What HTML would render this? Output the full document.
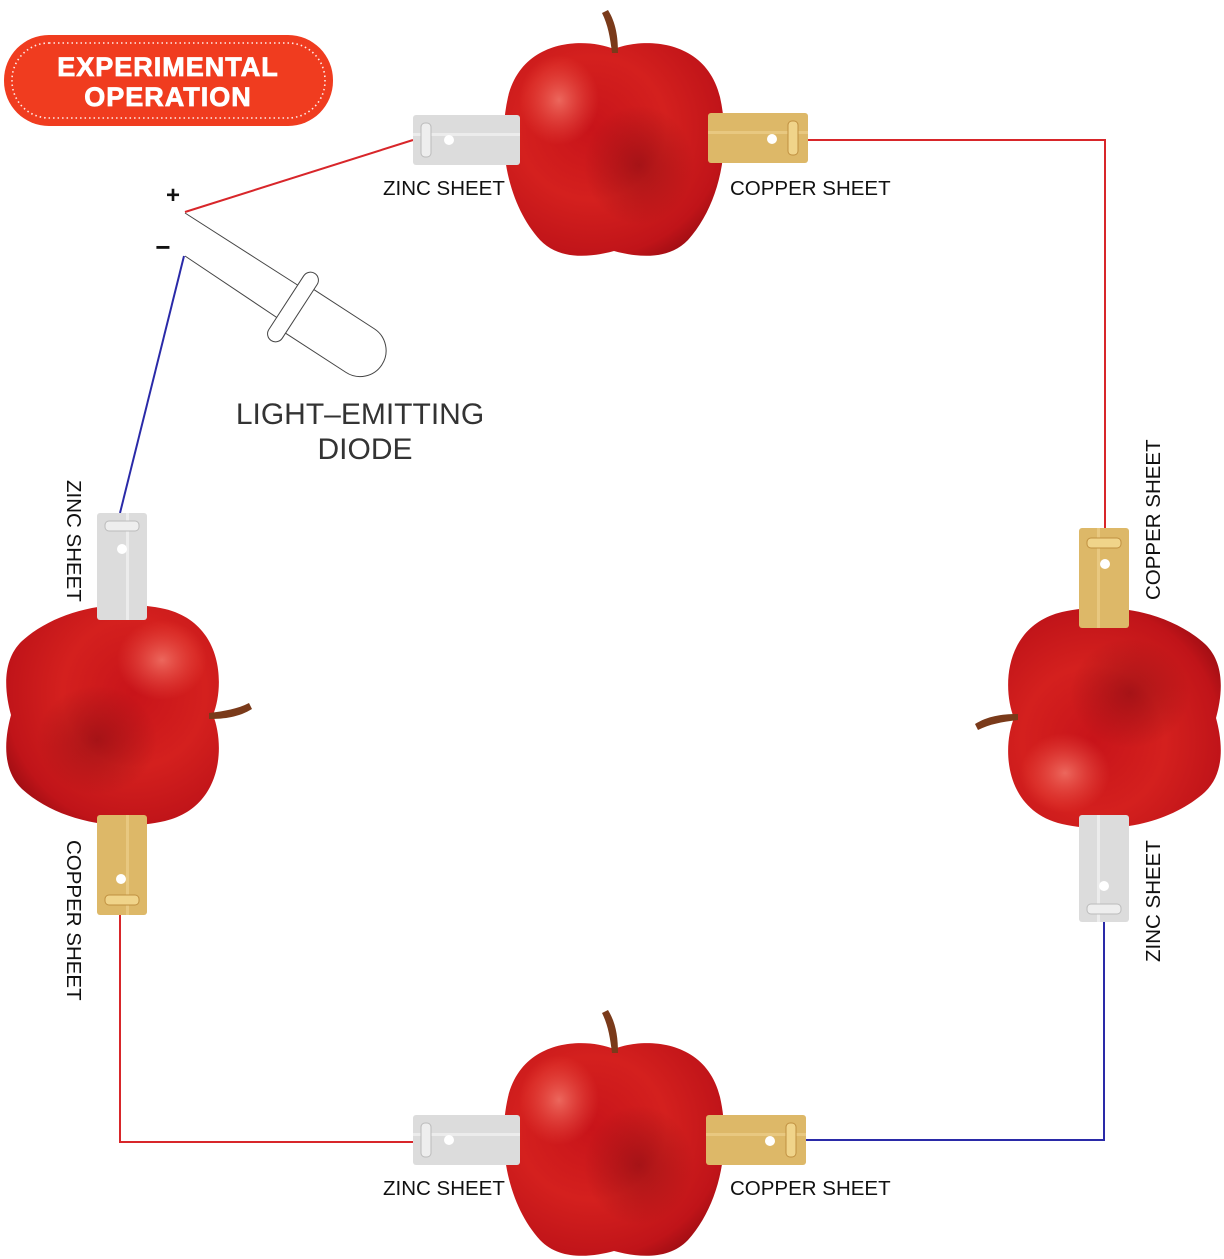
<!DOCTYPE html>
<html><head><meta charset="utf-8"><style>
html,body{margin:0;padding:0;background:#fff;}
svg{display:block;}
text{font-family:"Liberation Sans",Arial,sans-serif;}
</style></head><body>
<svg width="1224" height="1259" viewBox="0 0 1224 1259" xmlns="http://www.w3.org/2000/svg">
<defs>
<radialGradient id="ag" cx="0.4" cy="0.4" r="0.75">
<stop offset="0" stop-color="#c8141a"/>
<stop offset="0.45" stop-color="#d4201e"/>
<stop offset="0.8" stop-color="#c01419"/>
<stop offset="1" stop-color="#8e0a10"/>
</radialGradient>
<radialGradient id="hl" cx="0.5" cy="0.5" r="0.5">
<stop offset="0" stop-color="#ff9a88" stop-opacity="0.6"/>
<stop offset="1" stop-color="#ff6a55" stop-opacity="0"/>
</radialGradient>
<radialGradient id="dk" cx="0.5" cy="0.5" r="0.5">
<stop offset="0" stop-color="#7a0810" stop-opacity="0.5"/>
<stop offset="1" stop-color="#7a0810" stop-opacity="0"/>
</radialGradient>
<g id="apple">
<path d="M0,-96 C30,-108 92,-106 106,-48 C118,5 104,62 74,95 C54,116 22,112 0,106 C-22,112 -54,116 -74,95 C-104,62 -118,5 -106,-48 C-92,-106 -30,-108 0,-96 Z" fill="url(#ag)"/>
<ellipse cx="-55" cy="-45" rx="40" ry="45" fill="url(#hl)"/>
<ellipse cx="25" cy="20" rx="55" ry="60" fill="url(#dk)"/>
<path d="M-2,-92 C-4,-108 -6,-120 -12,-132 L-6,-135 C2,-122 4,-108 4,-92 Z" fill="#7a3a1a"/>
</g>
<g id="zinc">
<rect x="0" y="0" width="107" height="50" rx="3" fill="#dcdcdc"/>
<rect x="0" y="18" width="107" height="3" fill="#ececec"/>
<circle cx="36" cy="25" r="5" fill="#fff"/>
<rect x="8" y="8" width="10" height="34" rx="4" fill="#eee" stroke="#bbb" stroke-width="1"/>
</g>
<g id="copper">
<rect x="0" y="0" width="100" height="50" rx="3" fill="#ddb868"/>
<rect x="0" y="18" width="100" height="3" fill="#e8c880"/>
<circle cx="64" cy="26" r="5" fill="#fff"/>
<rect x="80" y="8" width="10" height="34" rx="4" fill="#f0d48a" stroke="#c09040" stroke-width="1"/>
</g>
</defs>

<!-- badge -->
<rect x="4" y="35" width="329" height="91" rx="45" fill="#f03c1f"/>
<rect x="12" y="43" width="313" height="75" rx="37" fill="none" stroke="#fff" stroke-width="1.6" stroke-dasharray="1.5 3" opacity="0.9"/>
<text x="168" y="76" text-anchor="middle" font-size="27" font-weight="900" fill="#fff" letter-spacing="1" stroke="#fff" stroke-width="0.8">EXPERIMENTAL</text>
<text x="168" y="106" text-anchor="middle" font-size="27" font-weight="900" fill="#fff" letter-spacing="1" stroke="#fff" stroke-width="0.8">OPERATION</text>

<!-- wires -->
<polyline points="413,140 185,212" fill="none" stroke="#d8262a" stroke-width="2"/>
<polyline points="806,140 1105,140 1105,528" fill="none" stroke="#d8262a" stroke-width="2"/>
<polyline points="1104,920 1104,1140 806,1140" fill="none" stroke="#2a2aa8" stroke-width="2"/>
<polyline points="413,1142 120,1142 120,913" fill="none" stroke="#d8262a" stroke-width="2"/>
<polyline points="120,513 184,256" fill="none" stroke="#2a2aa8" stroke-width="2"/>

<!-- LED -->
<g fill="none" stroke="#444" stroke-width="1">
<line x1="185" y1="213" x2="310" y2="293"/>
<line x1="185" y1="256" x2="288" y2="325"/>
<g transform="translate(293,307) rotate(33)">
<path d="M8,-26 L80,-26 A26,26 0 0 1 80,26 L8,26" fill="#fff"/>
<rect x="-8" y="-40" width="16" height="80" rx="8" fill="#fff"/>
</g>
</g>
<text x="173" y="203" text-anchor="middle" font-size="24" font-weight="bold" fill="#111">+</text>
<text x="163" y="256" text-anchor="middle" font-size="26" font-weight="bold" fill="#111">−</text>
<text x="360" y="424" text-anchor="middle" font-size="30" fill="#333">LIGHT–EMITTING</text>
<text x="365" y="459" text-anchor="middle" font-size="30" fill="#333">DIODE</text>

<!-- top apple -->
<use href="#apple" transform="translate(614,145)"/>
<use href="#zinc" transform="translate(413,115)"/>
<use href="#copper" transform="translate(708,113)"/>
<text x="383" y="195" font-size="20.5" fill="#111">ZINC SHEET</text>
<text x="730" y="195" font-size="20.5" fill="#111">COPPER SHEET</text>

<!-- bottom apple -->
<use href="#apple" transform="translate(614,1145)"/>
<use href="#zinc" transform="translate(413,1115)"/>
<use href="#copper" transform="translate(706,1115)"/>
<text x="383" y="1195" font-size="20.5" fill="#111">ZINC SHEET</text>
<text x="730" y="1195" font-size="20.5" fill="#111">COPPER SHEET</text>

<!-- left apple -->
<use href="#apple" transform="translate(117,715) rotate(90)"/>
<use href="#zinc" transform="translate(147,513) rotate(90)"/>
<use href="#copper" transform="translate(147,815) rotate(90)"/>
<text transform="translate(67,480) rotate(90)" font-size="20.5" fill="#111">ZINC SHEET</text>
<text transform="translate(67,840) rotate(90)" font-size="20.5" fill="#111">COPPER SHEET</text>

<!-- right apple -->
<use href="#apple" transform="translate(1110,718) rotate(-90)"/>
<use href="#copper" transform="translate(1079,628) rotate(-90)"/>
<use href="#zinc" transform="translate(1079,922) rotate(-90)"/>
<text transform="translate(1160,600) rotate(-90)" font-size="20.5" fill="#111">COPPER SHEET</text>
<text transform="translate(1160,962) rotate(-90)" font-size="20.5" fill="#111">ZINC SHEET</text>
</svg>
</body></html>
